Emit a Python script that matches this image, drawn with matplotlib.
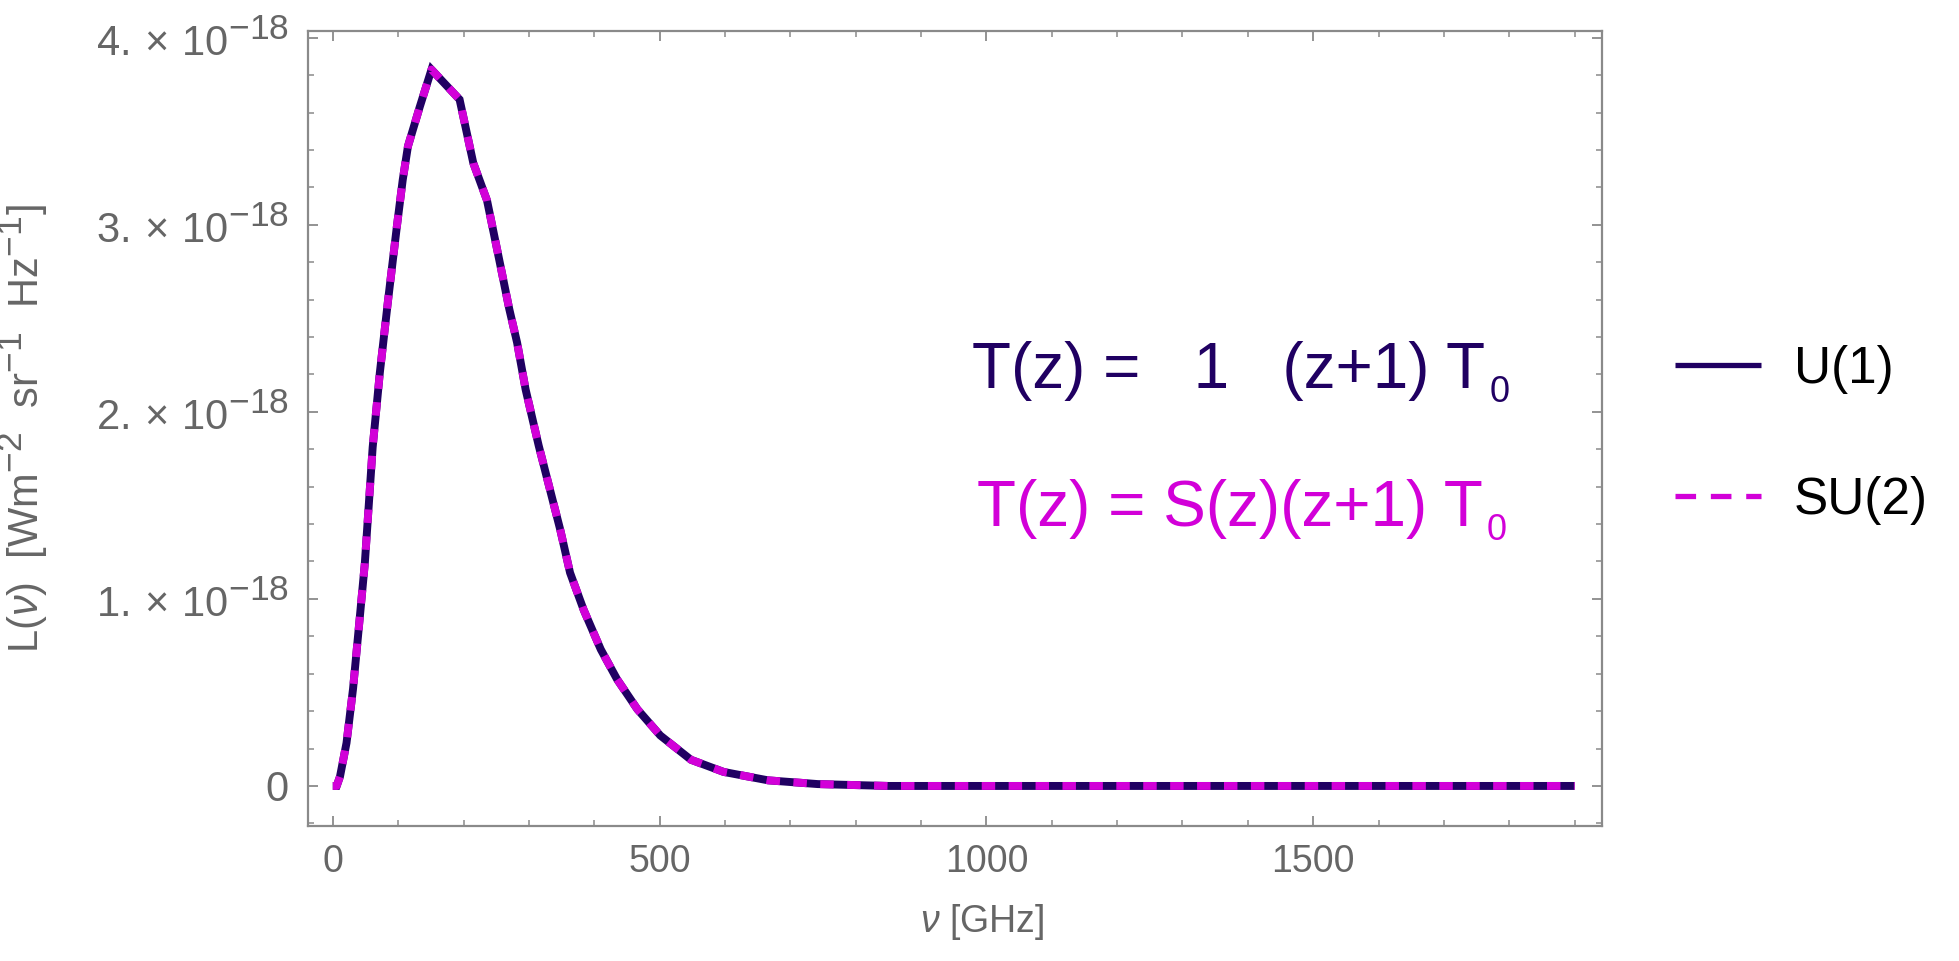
import numpy as np
import matplotlib.pyplot as plt
import matplotlib._mathtext as mathtext_core
from matplotlib.ticker import MultipleLocator

plt.rcParams['font.family'] = ['Liberation Sans', 'DejaVu Sans']
plt.rcParams['mathtext.fontset'] = 'custom'
plt.rcParams['mathtext.rm'] = 'Liberation Sans'
plt.rcParams['mathtext.it'] = 'Liberation Sans:italic'
# larger exponents in tick labels and axis label
mathtext_core.SHRINK_FACTOR = 0.85

# spectral luminosity, frequency in GHz, L in units of 1e-18 W m^-2 sr^-1 Hz^-1
nu_GHz = [0, 6, 11, 21, 31, 41, 49, 61, 72, 84, 98, 107, 115, 133, 151, 194,
          215, 236, 256, 270, 282, 295, 315, 348, 363, 384, 410, 435, 466,
          501, 548, 598, 666, 742, 850, 1000, 1900]
L_u1 = [0, 0.0, 0.05, 0.23, 0.52, 0.89, 1.19, 1.81, 2.21, 2.58, 2.99, 3.24,
        3.42, 3.63, 3.83, 3.67, 3.33, 3.13, 2.79, 2.55, 2.37, 2.12, 1.82,
        1.37, 1.14, 0.94, 0.73, 0.57, 0.41, 0.27, 0.14, 0.075, 0.03, 0.01,
        0.0, 0.0, 0.0]
L_su2 = [0, 0.0, 0.05, 0.23, 0.52, 0.89, 1.19, 1.81, 2.21, 2.58, 2.99, 3.24,
         3.42, 3.63, 3.83, 3.67, 3.33, 3.13, 2.79, 2.55, 2.37, 2.12, 1.82,
         1.37, 1.14, 0.94, 0.73, 0.57, 0.41, 0.27, 0.14, 0.075, 0.03, 0.01,
         0.0, 0.0, 0.0]

labels = ['U(1)', 'SU(2)']
x_ticks = [0, 500, 1000, 1500]
y_ticks = [0, 1, 2, 3, 4]
y_ticklabels = ['0'] + [r'$%d.\times\,10^{-18}$' % v for v in y_ticks[1:]]

navy = '#200062'
magenta = '#d200d8'
gray = '#666666'
spine_gray = '#8a8a8a'

fig = plt.figure(figsize=(19.59, 9.61), dpi=100)
ax = fig.add_axes([0.1572, 0.1405, 0.8178 - 0.1572, 0.9677 - 0.1405])

x = np.array(nu_GHz)
ax.plot(x, np.array(L_u1) * 1e-18, color=navy, lw=5.7, label=labels[0],
        solid_joinstyle='miter', solid_capstyle='butt')
ax.plot(x, np.array(L_su2) * 1e-18, color=magenta, lw=5.7, ls=(0, (1.7, 1.7)),
        dash_capstyle='butt', label=labels[1])

ax.set_xlim(-38, 1942)
ax.set_ylim(-0.214e-18, 4.036e-18)

ax.set_xticks(x_ticks)
ax.set_xticklabels([str(v) for v in x_ticks])
ax.xaxis.set_minor_locator(MultipleLocator(100))
ax.set_yticks([v * 1e-18 for v in y_ticks])
ax.set_yticklabels(y_ticklabels)
ax.yaxis.set_minor_locator(MultipleLocator(0.2e-18))

ax.tick_params(which='both', direction='in', top=True, right=True,
               color=spine_gray, labelcolor=gray)
ax.tick_params(which='major', length=7, width=1.3)
ax.tick_params(which='minor', length=4, width=1.1)
ax.tick_params(axis='x', pad=13, labelsize=27)
ax.tick_params(axis='y', pad=14, labelsize=30)
for s in ax.spines.values():
    s.set_color(spine_gray)
    s.set_linewidth(1.6)

ax.set_xlabel(r'$\mathit{\nu}$ [GHz]', fontsize=27, color=gray)
ax.set_ylabel(r'L($\mathit{\nu}$)  [Wm$^{-2}$  sr$^{-1}$  Hz$^{-1}$]',
              fontsize=30, color=gray)
ax.xaxis.set_label_coords(0.521, -0.096)
ax.yaxis.set_label_coords(-0.199, 0.5)

# temperature-redshift relations, subscript drawn as its own smaller text
t1 = fig.text(972 / 1959, 1 - 388 / 961, 'T(z) =   1   (z+1) T',
              fontsize=46, color=navy, ha='left', va='baseline')
t2 = fig.text(977 / 1959, 1 - 526 / 961, 'T(z) = S(z)(z+1) T',
              fontsize=46, color=magenta, ha='left', va='baseline')
for t, c in [(t1, navy), (t2, magenta)]:
    ax.annotate('0', xy=(1, 0), xycoords=t, xytext=(3, -1),
                textcoords='offset points', fontsize=26, color=c,
                ha='left', va='baseline')

leg = ax.legend(loc='center left', bbox_to_anchor=(1675 / 1959, 1 - 435 / 961),
                bbox_transform=fig.transFigure, frameon=False, fontsize=37,
                handlelength=1.67, handletextpad=0.64, labelspacing=1.6,
                borderpad=0, borderaxespad=0)
leg_lines = leg.get_lines()
leg_lines[0].set_linewidth(3.8)
leg_lines[1].set_linewidth(3.8)
leg_lines[1].set_linestyle((0, (3.9, 2.8)))

fig.savefig('out.png', dpi=100)
